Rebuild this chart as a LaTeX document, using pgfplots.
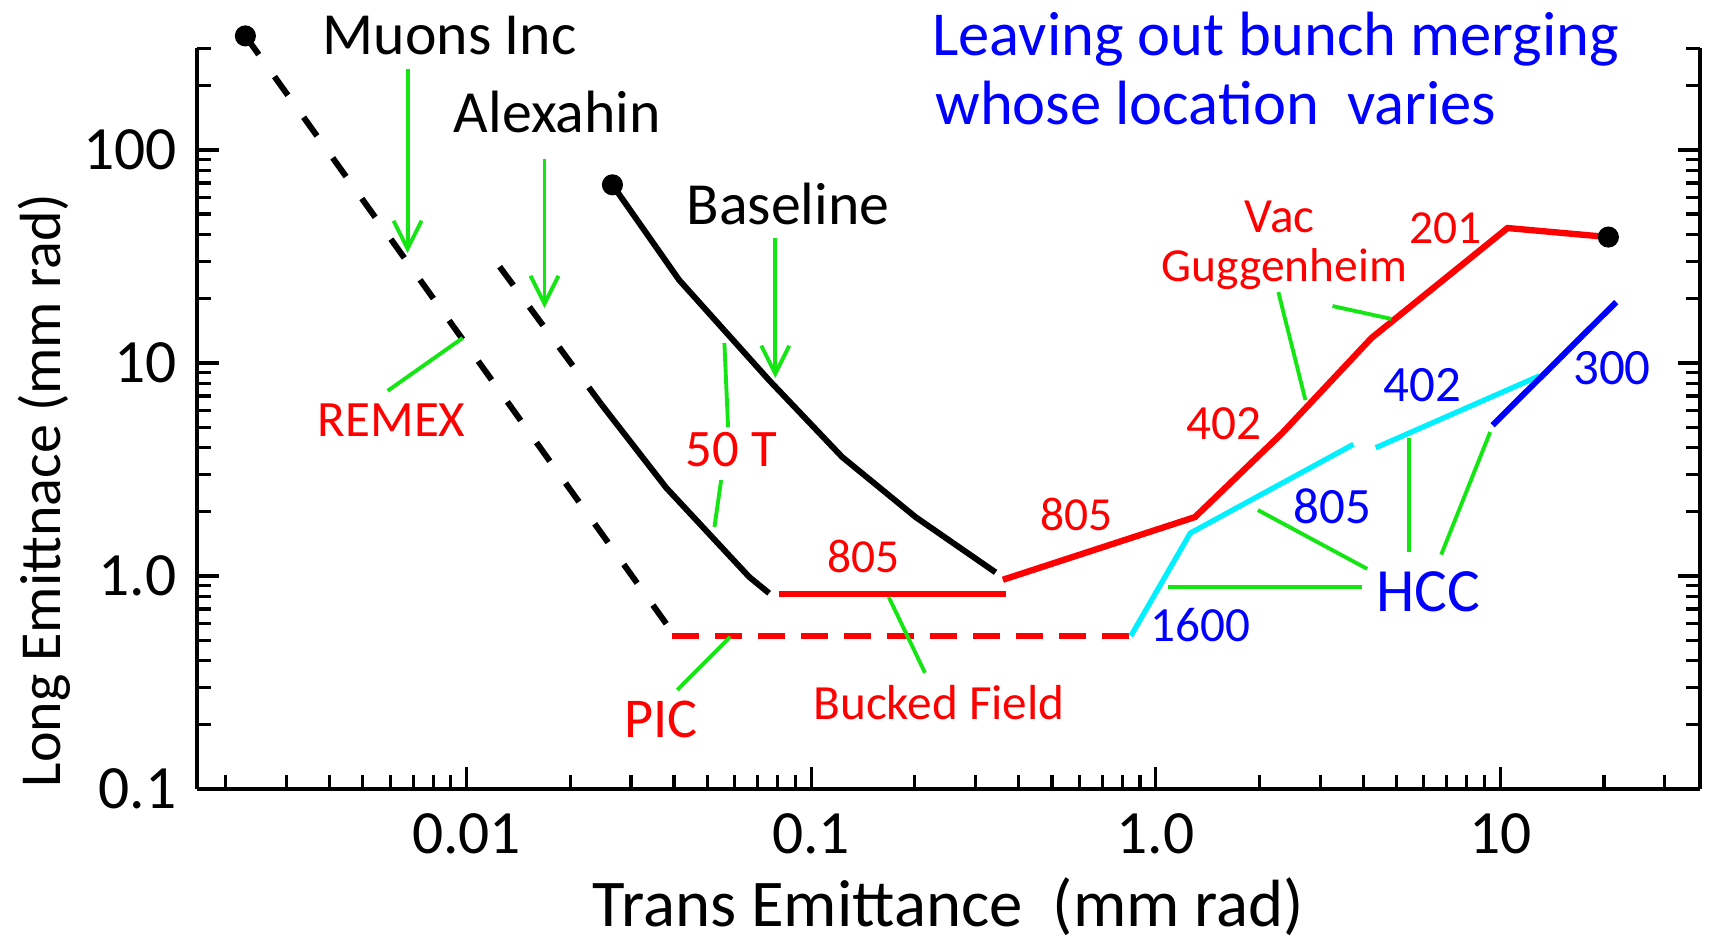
\documentclass[border=0pt]{standalone}
\usepackage{fontspec}
\setmainfont{Carlito}
\usepackage{pgfplots}
\pgfplotsset{compat=1.18}
\usetikzlibrary{calc,arrows.meta}

\definecolor{gline}{RGB}{20,230,20}
\definecolor{cyanl}{RGB}{0,240,255}

\newcommand{\fs}[1]{\fontsize{#1}{#1}\selectfont}

\begin{document}
\begin{tikzpicture}
\begin{axis}[
    xmode=log, ymode=log,
    scale only axis, width=150.3mm, height=74.1mm,
    xmin=0.00165, xmax=38, ymin=0.1, ymax=301,
    axis x line*=bottom, axis y line*=box,
    axis line style={line width=1.4pt},
    tick align=inside,
    tick style={black, line width=0.9pt},
    major tick length=2.2mm, minor tick length=1.4mm,
    xtick={0.01,0.1,1,10}, xticklabels={0.01,0.1,1.0,10},
    ytick={0.1,1,10,100}, yticklabels={0.1,1.0,10,100},
    minor xtick={0.002,0.003,0.004,0.005,0.006,0.007,0.008,0.009,0.02,0.03,0.04,0.05,0.06,0.07,0.08,0.09,0.2,0.3,0.4,0.5,0.6,0.7,0.8,0.9,2,3,4,5,6,7,8,9,20,30},
    minor ytick={0.2,0.3,0.4,0.5,0.6,0.7,0.8,0.9,2,3,4,5,6,7,8,9,20,30,40,50,60,70,80,90,200,300},
    tick label style={font=\fs{17.5}},
    xticklabel style={yshift=-1.2mm},
    yticklabel style={xshift=-0.8mm},
    /pgf/number format/assume math mode=true,
    xlabel={Trans Emittance\ \ (mm rad)},
    ylabel={Long Emittnace (mm rad)},
    xlabel style={at={(axis description cs:0.5,-0.186)}, anchor=base, font=\fs{19}},
    ylabel style={at={(axis description cs:-0.0911,0.403)}, anchor=base, font=\fs{16.5}},
    clip=false,
    every node/.append style={inner sep=0.5pt},
  ]
  \coordinate (o) at (rel axis cs:0,0);

  % Muons Inc (dashed)
  \addplot[black, line width=1.7pt, dash pattern=on 2.3mm off 2.7mm] coordinates {(0.00228,343) (0.0395,0.546)};
  % PIC
  \addplot[red, line width=1.6pt, dash pattern=on 2.7mm off 1.6mm] coordinates {(0.0395,0.522) (0.84,0.522)};
  % Alexahin (dashed) and 50 T
  \addplot[black, line width=1.7pt, dash pattern=on 2.3mm off 2.7mm] coordinates {(0.01247,28.3) (0.0246,6.4)};
  \addplot[black, line width=1.7pt] coordinates {(0.0246,6.4) (0.038,2.59) (0.0661,0.99) (0.0755,0.83)};
  % Bucked Field
  \addplot[red, line width=1.7pt] coordinates {(0.0808,0.822) (0.367,0.822)};
  % Baseline
  \addplot[black, line width=1.7pt] coordinates {(0.0265,68.6) (0.0414,24.5) (0.0755,8.3) (0.123,3.62) (0.201,1.89) (0.343,1.04)};
  % Vac / Guggenheim channel
  \addplot[red, line width=1.8pt] coordinates {(0.36,0.96) (1.30,1.89) (2.33,4.69) (4.23,13.1) (10.5,43) (20.6,39)};
  % HCC
  \addplot[cyanl, line width=1.5pt] coordinates {(0.847,0.523) (1.26,1.59) (3.75,4.15)};
  \addplot[cyanl, line width=1.5pt] coordinates {(4.35,4.0) (13,8.7)};
  \addplot[blue, line width=1.7pt] coordinates {(9.5,5.1) (21.7,19.3)};
  % end points
  \addplot[only marks, mark=*, mark size=2.8pt, black] coordinates {(0.00228,343) (0.0265,68.6) (20.6,39)};

  % annotation arrows and leader lines
  \begin{scope}[gline, line width=1.1pt]
    \draw[-{Straight Barb[length=2.8mm,width=2.8mm]}] (axis cs:0.00674,240) -- (axis cs:0.00674,32.8);
    \draw[-{Straight Barb[length=2.8mm,width=2.8mm]}] (axis cs:0.01683,90.8) -- (axis cs:0.01683,18.1);
    \draw[-{Straight Barb[length=2.8mm,width=2.8mm]}] (axis cs:0.0787,38.6) -- (axis cs:0.0787,8.5);
    \draw (axis cs:0.0059,7.4) -- (axis cs:0.00974,13.1);
    \draw (axis cs:0.056,12.4) -- (axis cs:0.0574,5.0);
    \draw (axis cs:0.0548,2.82) -- (axis cs:0.0524,1.70);
    \draw (axis cs:0.168,0.796) -- (axis cs:0.214,0.351);
    \draw (axis cs:0.0582,0.518) -- (axis cs:0.0409,0.292);
    \draw (axis cs:2.27,21.5) -- (axis cs:2.72,6.7);
    \draw (axis cs:3.26,18.5) -- (axis cs:4.83,16.1);
    \draw (axis cs:1.084,0.887) -- (axis cs:3.98,0.887);
    \draw (axis cs:1.98,2.04) -- (axis cs:4.11,1.08);
    \draw (axis cs:5.45,4.45) -- (axis cs:5.45,1.30);
    \draw (axis cs:9.35,4.74) -- (axis cs:6.74,1.26);
  \end{scope}

  % labels
  \node[font=\fs{17}] at (axis cs:0.00893,343) {Muons Inc};
  \node[font=\fs{17}] at (axis cs:0.01835,150.7) {Alexahin};
  \node[font=\fs{17}] at (axis cs:0.0857,55.7) {Baseline};
  \begin{scope}[red]
    \node[font=\fs{14.5}] at (axis cs:0.00606,5.4) {REMEX};
    \node[font=\fs{15}] at (axis cs:0.0586,3.91) {50 T};
    \node[font=\fs{13.5}] at (axis cs:0.1416,1.23) {805};
    \node[font=\fs{14}] at (axis cs:0.235,0.254) {Bucked Field};
    \node[font=\fs{16}] at (axis cs:0.0367,0.213) {PIC};
    \node[font=\fs{13.5}] at (axis cs:0.590,1.95) {805};
    \node[font=\fs{14}] at (axis cs:1.574,5.17) {402};
    \node[font=\fs{14}] at (axis cs:2.29,48.6) {Vac};
    \node[font=\fs{13.5}] at (axis cs:2.36,27.6) {Guggenheim};
    \node[font=\fs{13.5}] at (axis cs:6.93,43) {201};
  \end{scope}
  \begin{scope}[blue]
    \node[font=\fs{14.5}] at (axis cs:5.94,7.9) {402};
    \node[font=\fs{14.5}] at (axis cs:21.1,9.5) {300};
    \node[font=\fs{14.5}] at (axis cs:3.26,2.13) {805};
    \node[font=\fs{17.5}] at (axis cs:6.18,0.841) {HCC};
    \node[font=\fs{14}] at (axis cs:1.349,0.589) {1600};
    \node[font=\fs{17.8}, anchor=base west] at (axis cs:0.207,279) {Leaving out bunch merging};
    \node[font=\fs{17.8}, anchor=base west] at (axis cs:0.211,131) {whose location\ \ varies};
  \end{scope}
\end{axis}
\pgfresetboundingbox
\path[use as bounding box] ($(o)+(-19.7mm,-15.4mm)$) rectangle ($(o)+(151.2mm,78.9mm)$);
\end{tikzpicture}
\end{document}
